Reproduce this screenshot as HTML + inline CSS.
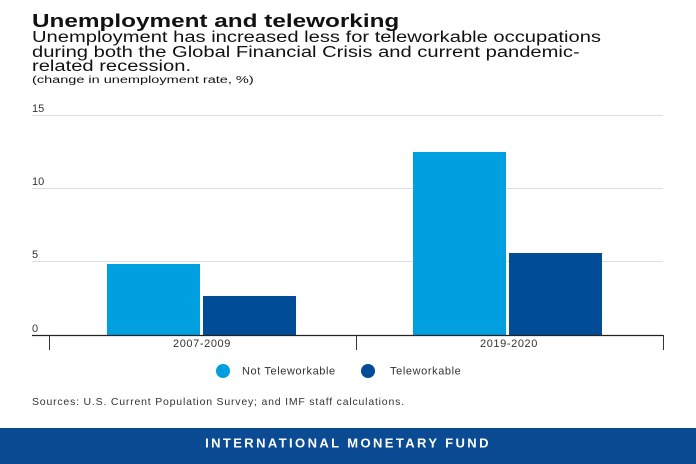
<!DOCTYPE html>
<html><head><style>
body{margin:0;width:696px;height:464px;background:#fff;font-family:"Liberation Sans",sans-serif;position:relative;overflow:hidden}
.t{position:absolute;left:32px;color:#111;white-space:nowrap;transform-origin:0 0}
</style></head><body>
<div class="t" style="top:12px;font-size:18px;font-weight:bold;line-height:19px;transform:scaleX(1.35)">Unemployment and teleworking</div>
<div class="t" style="top:31px;font-size:15.5px;line-height:14.5px;transform:scaleX(1.3)">Unemployment has increased less for teleworkable occupations<br>during both the Global Financial Crisis and current pandemic-<br>related recession.</div>
<div class="t" style="top:75px;font-size:10px;line-height:11px;transform:scaleX(1.45)">(change in unemployment rate, %)</div>
<svg width="696" height="464" style="position:absolute;left:0;top:0" font-family="Liberation Sans, sans-serif">
<g stroke="#ddd" stroke-width="1"><line x1="32" x2="663" y1="115.5" y2="115.5"/><line x1="32" x2="663" y1="188.5" y2="188.5"/><line x1="32" x2="663" y1="261.5" y2="261.5"/></g>
<g font-size="11" fill="#333"><text x="32" y="112">15</text><text x="32" y="185">10</text><text x="32" y="258">5</text><text x="32" y="332">0</text></g>
<rect x="107" y="264" width="93" height="71" fill="#009fe0"/>
<rect x="203" y="296" width="93" height="39" fill="#004c97"/>
<rect x="413" y="152" width="93" height="183" fill="#009fe0"/>
<rect x="509" y="253" width="93" height="82" fill="#004c97"/>
<line x1="32" x2="663" y1="335.5" y2="335.5" stroke="#222" stroke-width="1.2"/>
<g stroke="#333" stroke-width="1"><line x1="49.5" x2="49.5" y1="335" y2="350"/><line x1="356.5" x2="356.5" y1="335" y2="350"/><line x1="663.5" x2="663.5" y1="335" y2="350"/></g>
<g font-size="11" fill="#333" text-anchor="middle" letter-spacing="0.6"><text x="202" y="347">2007-2009</text><text x="509" y="347">2019-2020</text></g>
<circle cx="223" cy="371" r="7" fill="#009fe0"/><text x="242" y="374.5" font-size="11" letter-spacing="0.6" fill="#333">Not Teleworkable</text>
<circle cx="368" cy="371" r="7" fill="#004c97"/><text x="390" y="374.5" font-size="11" letter-spacing="0.6" fill="#333">Teleworkable</text>
<text x="32" y="405" font-size="10.5" letter-spacing="0.8" fill="#333">Sources: U.S. Current Population Survey; and IMF staff calculations.</text>
<rect x="0" y="428" width="696" height="36" fill="#0b4b93"/>
<text x="348" y="447.5" font-size="13" font-weight="bold" fill="#fff" text-anchor="middle" letter-spacing="2.4">INTERNATIONAL MONETARY FUND</text>
</svg>
</body></html>
